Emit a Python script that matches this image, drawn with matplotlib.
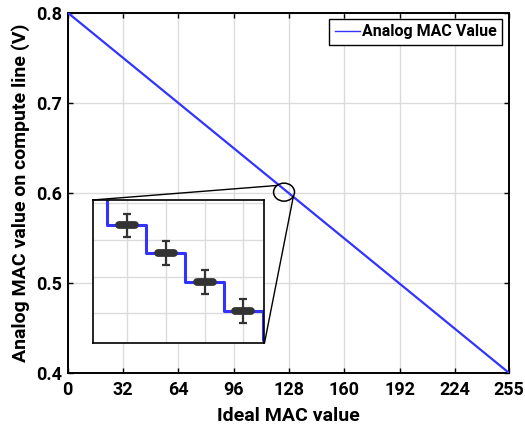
import numpy as np
import matplotlib
matplotlib.use('Agg')
import matplotlib.pyplot as plt
from matplotlib.patches import Ellipse, ConnectionPatch
from matplotlib.markers import MarkerStyle
from matplotlib.font_manager import FontProperties

plt.rcParams['font.family'] = ['Roboto', 'DejaVu Sans']
plt.rcParams['font.weight'] = 'bold'

# main transfer line: ideal MAC code -> voltage on compute line
mac_code = [0, 255]
mac_volt = [0.8, 0.4]

x_ticks = [0, 32, 64, 96, 128, 160, 192, 224, 255]
y_ticks = [0.4, 0.5, 0.6, 0.7, 0.8]

# zoomed region (inset): staircase and measured mean +- spread
step_code = [120, 121, 122, 123, 124, 125]
step_volt = [0.61237, 0.61080, 0.60928, 0.60771, 0.60613, 0.60456]
meas_code = [121, 122, 123, 124]
meas_volt = [0.61080, 0.60928, 0.60771, 0.60613]
meas_err = [0.00064, 0.00064, 0.00064, 0.00064]

BLUE = '#3333ff'
GREY = '#333333'

fig = plt.figure(figsize=(5.25, 4.3), dpi=100)
ax = fig.add_axes([0.1286, 0.1337, 0.84, 0.8372])

ax.plot(mac_code, mac_volt, color=BLUE, lw=1.6, label='Analog MAC Value', zorder=3)

ax.set_xlim(0, 255)
ax.set_ylim(0.4, 0.8)
ax.set_xticks(x_ticks)
ax.set_yticks(y_ticks)
ax.set_yticklabels(['%.1f' % v for v in y_ticks])
ax.grid(True, color='#dcdcdc', lw=1.0)
ax.set_axisbelow(True)
ax.tick_params(direction='in', top=True, right=True, length=3.5, width=1.0,
               labelsize=13, pad=4)
ax.tick_params(axis='x', pad=6)
for s in ax.spines.values():
    s.set_linewidth(1.4)
    s.set_color('black')
ax.set_xlabel('Ideal MAC value', fontsize=14, fontweight='bold', labelpad=6)
ax.set_ylabel('Analog MAC value on compute line (V)', fontsize=14,
              fontweight='bold', labelpad=4)

leg_font = FontProperties(family='Roboto', weight='bold', style='normal', size=11.5)
leg = ax.legend(loc='upper right', prop=leg_font,
                handlelength=1.6, handletextpad=0.1, borderpad=0.35,
                borderaxespad=0.4, fancybox=False, framealpha=1,
                edgecolor='black')
leg.get_frame().set_linewidth(1.0)
leg.get_lines()[0].set_linewidth(1.0)

# circle marking the zoomed spot
ell_c = (125.2, 0.6004)
ell_w, ell_h = 12.1, 0.020
ax.add_patch(Ellipse(ell_c, ell_w, ell_h, fill=False, ec='black', lw=1.1, zorder=4))

# inset
axin = fig.add_axes([0.1766, 0.2023, 0.3272, 0.3326])
axin.step(step_code, step_volt, where='mid', color=BLUE, lw=2.2, zorder=2)
axin.errorbar(meas_code, meas_volt, yerr=meas_err, fmt='none', ecolor=GREY,
              elinewidth=1.6, capsize=3.2, capthick=1.6, zorder=3)
axin.plot(meas_code, meas_volt, ls='none',
          marker=MarkerStyle('_', capstyle='round'), ms=11, mew=5.6,
          color=GREY, zorder=4)
axin.set_xlim(120.126, 124.54)
axin.set_ylim(0.60438, 0.61218)
axin.set_xticks(meas_code)
axin.set_yticks([0.606, 0.608, 0.610, 0.612])
axin.tick_params(length=0, labelbottom=False, labelleft=False)
axin.grid(True, color='#dcdcdc', lw=1.0)
axin.set_axisbelow(True)
for s in axin.spines.values():
    s.set_linewidth(1.2)
    s.set_color('black')

# connector lines from inset corners to the circle
for (fx, fy), ang in [((0, 1), 132), ((1, 0), -26)]:
    t = np.deg2rad(ang)
    px = ell_c[0] + ell_w / 2 * np.cos(t)
    py = ell_c[1] + ell_h / 2 * np.sin(t)
    con = ConnectionPatch(xyA=(fx, fy), coordsA=axin.transAxes,
                          xyB=(px, py), coordsB=ax.transData,
                          color='black', lw=1.0)
    fig.add_artist(con)

fig.savefig('out.png', dpi=100)
